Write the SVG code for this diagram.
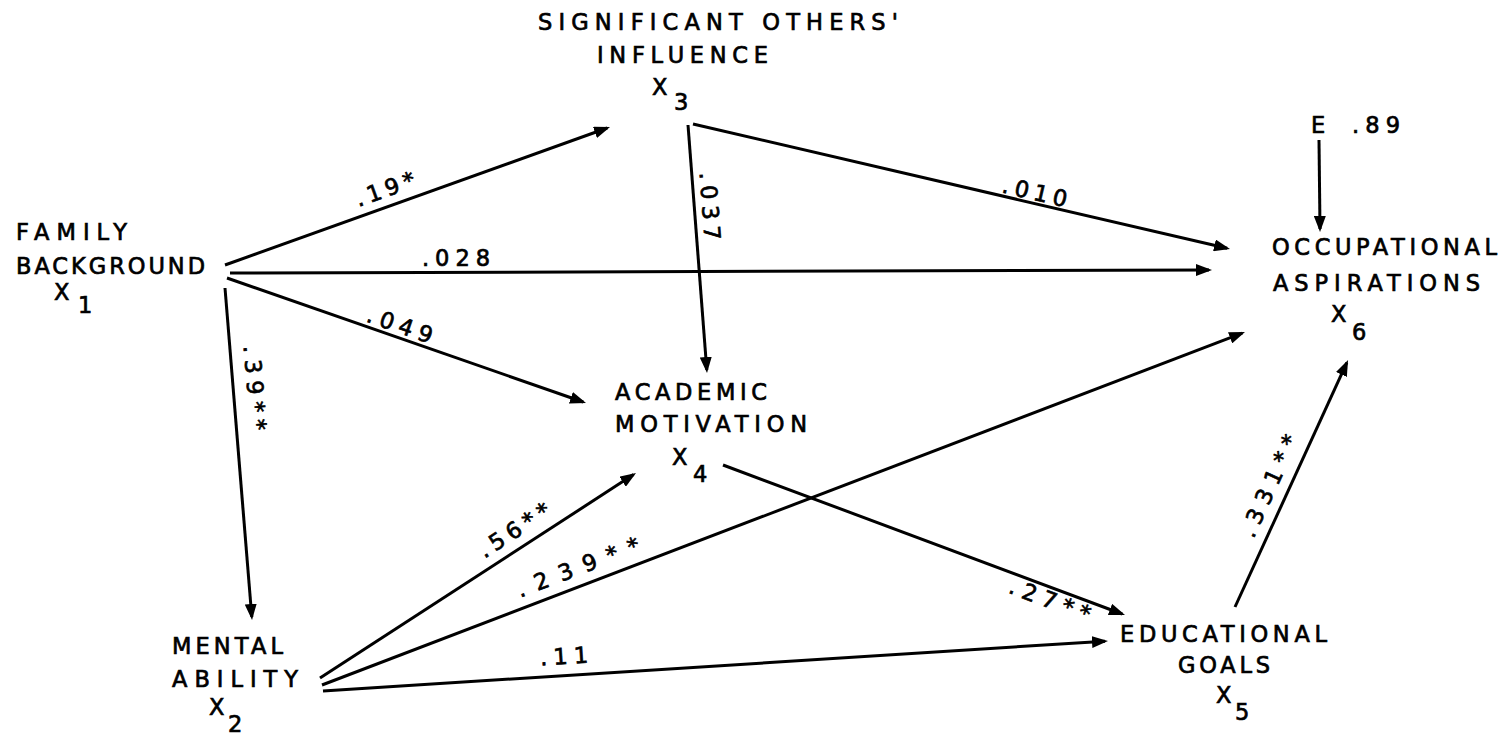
<svg xmlns="http://www.w3.org/2000/svg" width="1507" height="737" viewBox="0 0 1507 737">
<style>
text{font-family:"DejaVu Sans","Liberation Sans",sans-serif;font-size:22.5px;fill:#000;stroke:#000;stroke-width:0.7px}
.lab{text-anchor:middle}
#connectors line{stroke:#000;stroke-width:3;fill:none;marker-end:url(#ah)}
</style>
<defs>
<marker id="ah" markerUnits="userSpaceOnUse" markerWidth="16" markerHeight="12" viewBox="0 0 16 12" refX="13" refY="6" orient="auto">
<path d="M0,0 L16,6 L0,12 Z" fill="#000"/>
</marker>
</defs>
<rect width="1507" height="737" fill="#fff"/>
<g id="connectors">
<line x1="225" y1="265" x2="607.2" y2="128"/>
<line x1="230" y1="273" x2="1209" y2="270"/>
<line x1="227" y1="278" x2="583.2" y2="402"/>
<line x1="225" y1="288" x2="251.8" y2="617"/>
<line x1="688" y1="125" x2="706.8" y2="370"/>
<line x1="693" y1="124" x2="1227.1" y2="248.3"/>
<line x1="1319" y1="140" x2="1320" y2="229"/>
<line x1="320" y1="678" x2="633.5" y2="474.6"/>
<line x1="322" y1="685" x2="1242.2" y2="333.1"/>
<line x1="323" y1="691" x2="1105" y2="641.2"/>
<line x1="723" y1="465" x2="1122.2" y2="614"/>
<line x1="1235" y1="607" x2="1346.8" y2="362.7"/>
</g>
<g id="edge-labels">
<text class="lab" transform="translate(385,189) rotate(-19.7)" y="8" textLength="62" lengthAdjust="spacing">.19*</text>
<text x="422" y="266" textLength="68" lengthAdjust="spacing">.028</text>
<text class="lab" transform="translate(400,325) rotate(19.2)" y="8" textLength="68" lengthAdjust="spacing">.049</text>
<text class="lab" transform="translate(255,388) rotate(85.3)" y="8" textLength="85" lengthAdjust="spacing">.39**</text>
<text class="lab" transform="translate(710,206) rotate(85.6)" y="8" textLength="68" lengthAdjust="spacing">.037</text>
<text class="lab" transform="translate(1035,192) rotate(13.1)" y="8" textLength="66" lengthAdjust="spacing">.010</text>
<text class="lab" transform="translate(514,530) rotate(-33)" y="8" textLength="81" lengthAdjust="spacing">.56**</text>
<text class="lab" transform="translate(578,567) rotate(-20.9)" y="8" textLength="130" lengthAdjust="spacing">.239**</text>
<text class="lab" transform="translate(1050,600) rotate(20.5)" y="8" textLength="85" lengthAdjust="spacing">.27**</text>
<text class="lab" transform="translate(564,656) rotate(-3.6)" y="8" textLength="48" lengthAdjust="spacing">.11</text>
<text class="lab" transform="translate(1269,486) rotate(-65.4)" y="8" textLength="110" lengthAdjust="spacing">.331**</text>
<text x="1311" y="133">E</text>
<text x="1352" y="133" textLength="48" lengthAdjust="spacing">.89</text>
</g>
<g id="node-x3">
<text x="538" y="30" textLength="360" lengthAdjust="spacing">SIGNIFICANT OTHERS'</text>
<text x="597" y="63" textLength="171" lengthAdjust="spacing">INFLUENCE</text>
<text x="652" y="95">X</text><text x="674" y="110">3</text>
</g>
<g id="node-x1">
<text x="16" y="240" textLength="111" lengthAdjust="spacing">FAMILY</text>
<text x="16" y="274" textLength="189" lengthAdjust="spacing">BACKGROUND</text>
<text x="54" y="300">X</text><text x="78" y="313">1</text>
</g>
<g id="node-x6">
<text x="1272" y="255" textLength="225" lengthAdjust="spacing">OCCUPATIONAL</text>
<text x="1273" y="291" textLength="207" lengthAdjust="spacing">ASPIRATIONS</text>
<text x="1331" y="322">X</text><text x="1352" y="340">6</text>
</g>
<g id="node-x4">
<text x="615" y="400" textLength="152" lengthAdjust="spacing">ACADEMIC</text>
<text x="615" y="432" textLength="192" lengthAdjust="spacing">MOTIVATION</text>
<text x="672" y="465">X</text><text x="693" y="482">4</text>
</g>
<g id="node-x2">
<text x="172" y="654" textLength="111" lengthAdjust="spacing">MENTAL</text>
<text x="172" y="687" textLength="126" lengthAdjust="spacing">ABILITY</text>
<text x="209" y="715">X</text><text x="228" y="732">2</text>
</g>
<g id="node-x5">
<text x="1120" y="642" textLength="207" lengthAdjust="spacing">EDUCATIONAL</text>
<text x="1178" y="673" textLength="92" lengthAdjust="spacing">GOALS</text>
<text x="1216" y="703">X</text><text x="1235" y="720">5</text>
</g>
</svg>
